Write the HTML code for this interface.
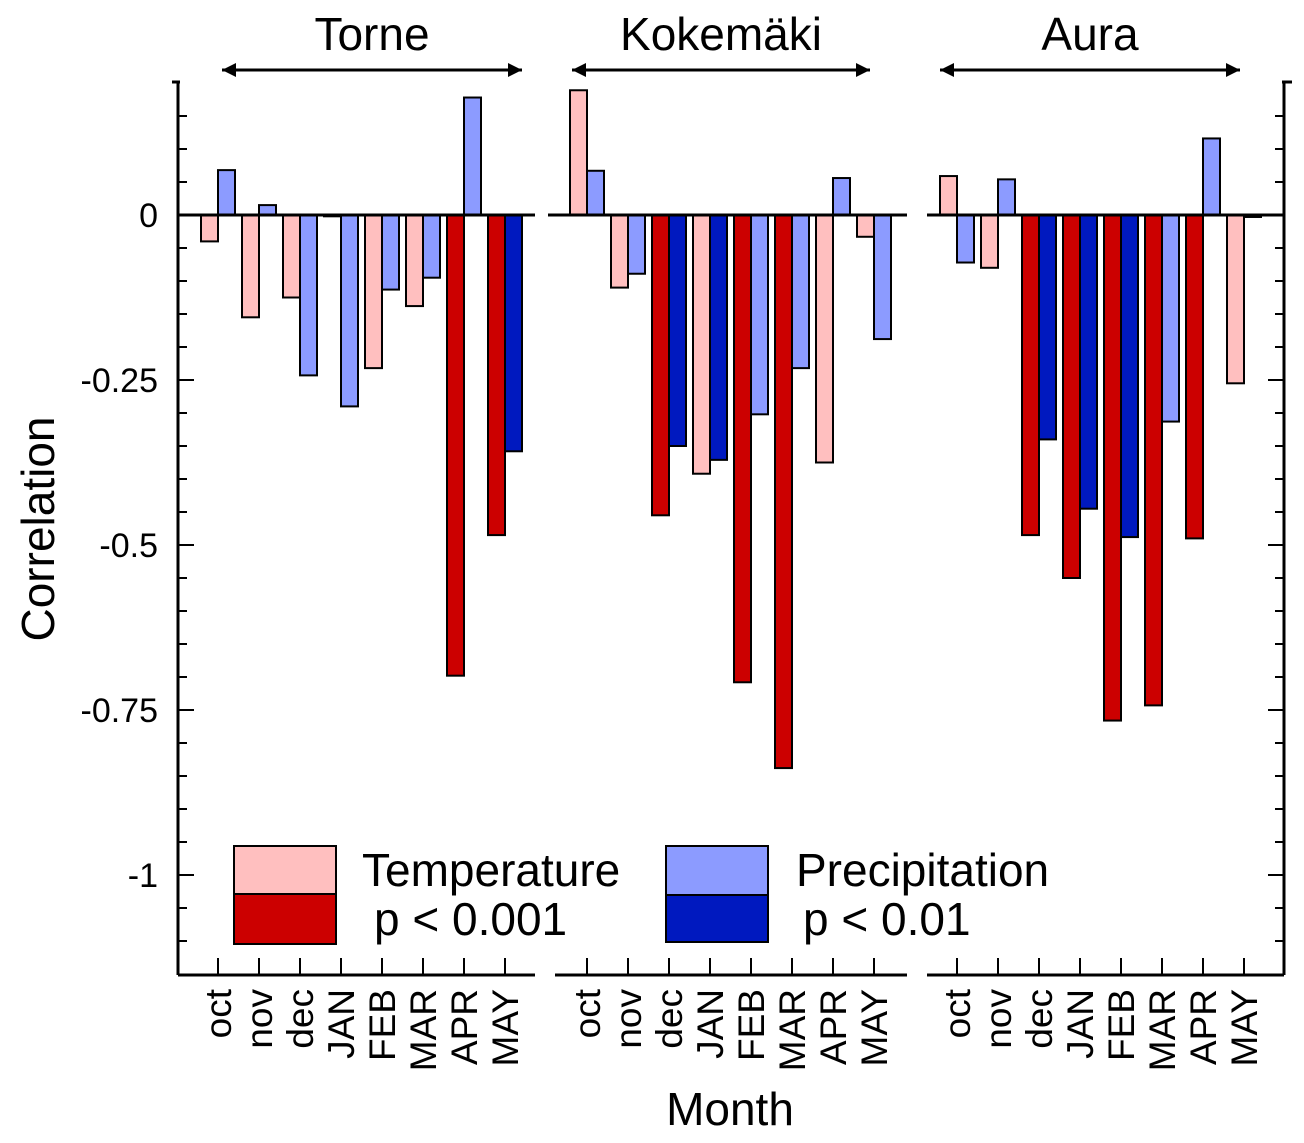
<!DOCTYPE html>
<html><head><meta charset="utf-8">
<style>
html,body{margin:0;padding:0;background:#fff;}
svg{display:block;font-family:"Liberation Sans",Arial,sans-serif;}
</style></head>
<body>
<svg id="chart" width="1304" height="1143" viewBox="0 0 1304 1143" xmlns="http://www.w3.org/2000/svg">
<defs>
<marker id="ah" viewBox="0 0 10 10" refX="10" refY="5" markerWidth="30" markerHeight="14" markerUnits="userSpaceOnUse" orient="auto-start-reverse">
<path d="M0,0 L10,5 L0,10 Z" fill="#000"/>
</marker>
</defs>
<g id="g"></g>
</svg>
<script>
const months = ["oct","nov","dec","JAN","FEB","MAR","APR","MAY"];
const rivers = ["Torne","Kokemäki","Aura"];
const tempTorne = [-0.04,-0.155,-0.125,-0.002,-0.232,-0.138,-0.698,-0.485];
const precTorne = [0.068,0.015,-0.243,-0.29,-0.113,-0.095,0.178,-0.358];
const tempKoke = [0.189,-0.11,-0.455,-0.392,-0.708,-0.838,-0.375,-0.033];
const precKoke = [0.067,-0.089,-0.35,-0.371,-0.302,-0.232,0.056,-0.188];
const tempAura = [0.059,-0.08,-0.485,-0.55,-0.766,-0.743,-0.49,-0.255];
const precAura = [-0.072,0.054,-0.34,-0.445,-0.488,-0.313,0.116,-0.003];
const sigTempTorne = [0,0,0,0,0,0,1,1];
const sigPrecTorne = [0,0,0,0,0,0,0,1];
const sigTempKoke = [0,0,1,0,1,1,0,0];
const sigPrecKoke = [0,0,1,1,0,0,0,0];
const sigTempAura = [0,0,1,1,1,1,1,0];
const sigPrecAura = [0,0,1,1,1,0,0,0];
const yTicks = [0,-0.25,-0.5,-0.75,-1];
const yTickLabels = ["0","-0.25","-0.5","-0.75","-1"];

const NS="http://www.w3.org/2000/svg";
const g=document.getElementById('g');
function el(tag,attrs,parent){const e=document.createElementNS(NS,tag);for(const k in attrs)e.setAttribute(k,attrs[k]);(parent||g).appendChild(e);return e;}
const Y0=215, PX=660;
function y(v){return Y0 - v*PX;}
const panelOct=[218,587,957], step=41, bw=17;
function x(p,i){return panelOct[p]+i*step;}
const segs=[[178,535],[548,907],[927,1284]];
const botSegs=[[178,535],[555,907],[927,1284]];
const arrows=[[222,522],[572,870],[940,1240]];
const temps=[tempTorne,tempKoke,tempAura], precs=[precTorne,precKoke,precAura];
const sT=[sigTempTorne,sigTempKoke,sigTempAura], sP=[sigPrecTorne,sigPrecKoke,sigPrecAura];
const LR="#ffbfbf", DR="#cc0000", LB="#8c9bff", DB="#0019bf";

let e=el('line',{x1:178,y1:82,x2:178,y2:975,stroke:'#000','stroke-width':3});

e=el('line',{x1:1284,y1:82,x2:1284,y2:975,stroke:'#000','stroke-width':3});

el('line',{x1:172,y1:82,x2:180,y2:82,stroke:'#000','stroke-width':3});
el('line',{x1:1282,y1:82,x2:1292,y2:82,stroke:'#000','stroke-width':3});
for(let k=-23;k<=4;k++){
  const v=k*0.05, yy=y(v); if(yy<84||yy>973) continue;
  const major = (k%5===0);
  const L = major?16:9;
  el('line',{x1:178,y1:yy,x2:178+L,y2:yy,stroke:'#000','stroke-width':2});
  el('line',{x1:1284,y1:yy,x2:1284-L,y2:yy,stroke:'#000','stroke-width':2});
}
yTicks.forEach((v,i)=>{
  const t=el('text',{x:158,y:y(v)+12,'text-anchor':'end','font-size':34});
  t.textContent=yTickLabels[i];
  
  
});
botSegs.forEach((s,p)=>{
  const l=el('line',{x1:s[0],y1:975,x2:s[1],y2:975,stroke:'#000','stroke-width':3});
  
  
  months.forEach((m,i)=>{
    const xx=x(p,i);
    el('line',{x1:xx,y1:975,x2:xx,y2:958,stroke:'#000','stroke-width':2});
    const t=el('text',{x:0,y:0,'text-anchor':'end','font-size':37,transform:`translate(${xx+13},989) rotate(-90)`});
    t.textContent=m;
    
    
  });
});
for(let p=0;p<3;p++){
  for(let i=0;i<8;i++){
    const xx=x(p,i);
    const tv=temps[p][i], pv=precs[p][i];
    let r=el('rect',{x:xx-bw,y:Math.min(y(tv),Y0),width:bw,height:Math.abs(y(tv)-Y0),fill:sT[p][i]?DR:LR,stroke:'#000','stroke-width':2});
    
    
    r=el('rect',{x:xx,y:Math.min(y(pv),Y0),width:bw,height:Math.abs(y(pv)-Y0),fill:sP[p][i]?DB:LB,stroke:'#000','stroke-width':2});
    
    
  }
}
segs.forEach((s,p)=>{
  const l=el('line',{x1:s[0],y1:Y0,x2:s[1],y2:Y0,stroke:'#000','stroke-width':3});
  
  
  const a=arrows[p];
  const ar=el('line',{x1:a[0],y1:70,x2:a[1],y2:70,stroke:'#000','stroke-width':3,'marker-start':'url(#ah)','marker-end':'url(#ah)'});
  
  
  const t=el('text',{x:(a[0]+a[1])/2,y:50,'text-anchor':'middle','font-size':46});
  t.textContent=rivers[p];
  
  
});
e=el('text',{x:730,y:1125,'text-anchor':'middle','font-size':46});e.textContent='Month';

e=el('text',{x:0,y:0,'text-anchor':'middle','font-size':46,transform:'translate(54,529) rotate(-90)'});e.textContent='Correlation';

const lg=el('g',{});


el('rect',{x:234,y:846,width:102,height:48,fill:LR,stroke:'#000','stroke-width':2},lg);
el('rect',{x:234,y:894,width:102,height:50,fill:DR,stroke:'#000','stroke-width':2},lg);
el('rect',{x:666,y:846,width:102,height:49,fill:LB,stroke:'#000','stroke-width':2},lg);
el('rect',{x:666,y:895,width:102,height:47,fill:DB,stroke:'#000','stroke-width':2},lg);
e=el('text',{x:362,y:886,'font-size':46},lg);e.textContent='Temperature';

e=el('text',{x:374,y:935,'font-size':46},lg);e.textContent='p < 0.001';

e=el('text',{x:796,y:886,'font-size':46},lg);e.textContent='Precipitation';

e=el('text',{x:803,y:935,'font-size':46},lg);e.textContent='p < 0.01';

</script>
</body></html>
